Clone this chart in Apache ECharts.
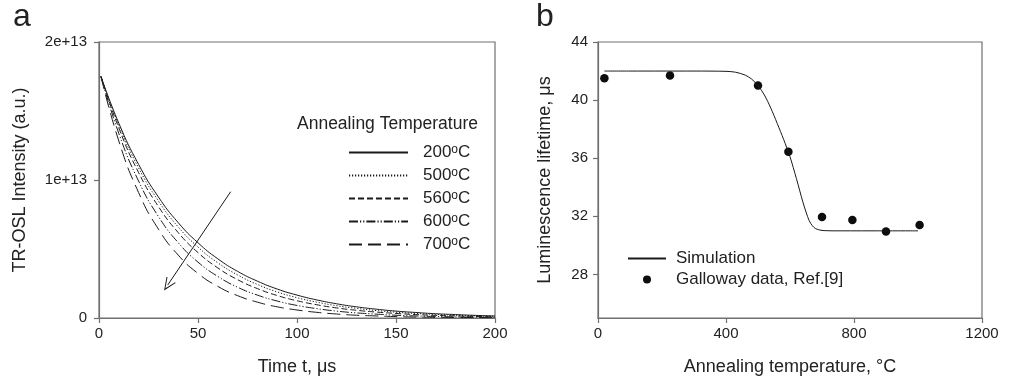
<!DOCTYPE html>
<html><head><meta charset="utf-8">
<script src="https://cdn.jsdelivr.net/npm/echarts@6/dist/echarts.min.js"></script>
<style>html,body{margin:0;padding:0;background:#fff}#c{width:1019px;height:384px}</style>
</head><body><div id="c"></div>
<script>
// ---- Panel a: TR-OSL decay curves (intensity in units of 1e13) ----
const timeUs = [1,10,20,30,40,50,60,70,80,90,100,110,120,130,140,150,160,170,180,190,200];
const seriesNamesA = ['200°C','500°C','560°C','600°C','700°C'];
const int200 = [1.75,1.412,1.113,0.877,0.691,0.545,0.429,0.338,0.267,0.210,0.166,0.131,0.103,0.081,0.064,0.050,0.040,0.031,0.025,0.019,0.015];
const int500 = [1.75,1.397,1.088,0.848,0.660,0.514,0.400,0.312,0.243,0.189,0.147,0.115,0.089,0.070,0.054,0.042,0.033,0.026,0.020,0.016,0.012];
const int560 = [1.75,1.377,1.054,0.808,0.619,0.474,0.363,0.278,0.213,0.163,0.125,0.096,0.073,0.056,0.043,0.033,0.025,0.019,0.015,0.011,0.009];
const int600 = [1.75,1.338,0.992,0.736,0.546,0.405,0.301,0.223,0.166,0.123,0.091,0.068,0.050,0.037,0.028,0.020,0.015,0.011,0.008,0.006,0.005];
const int700 = [1.75,1.283,0.909,0.644,0.456,0.323,0.229,0.162,0.115,0.081,0.058,0.041,0.029,0.020,0.015,0.010,0.007,0.005,0.004,0.003,0.002];
const intensityScale = 1e13;
const arrowFrom = [66.5, 0.915];
const arrowTo = [34.7, 0.239];

// ---- Panel b: luminescence lifetime vs annealing temperature ----
const simTemp = [20,100,200,300,400,430,460,480,500,520,540,560,580,600,620,640,650,660,670,680,700,750,800,900,1000];
const simLife = [42.0,42.0,42.0,42.0,41.98,41.92,41.72,41.45,41.0,40.35,39.45,38.4,37.3,36.1,34.6,33.0,32.3,31.7,31.35,31.15,31.03,31.0,31.0,31.0,31.0];
const dataTemp = [20,225,500,595,700,795,900,1005];
const dataLife = [41.5,41.7,41.0,36.45,31.95,31.75,30.95,31.4];
const yTicksB = [28,32,36,40,44];

const FONT = 'Liberation Sans, Arial, sans-serif';
const TXT = '#222';
const AX = '#707070';
const LINE = '#1a1a1a';
const dashes = ['solid', [1.2,1.8], [6,3], [9,2,1.2,2,1.2,2], [13,6]];

const chart = echarts.init(document.getElementById('c'), null, {renderer:'canvas'});

function axisCommon() {
  return {
    axisLine: {show:true, onZero:false, lineStyle:{color:AX, width:1.2}},
    axisTick: {show:true, inside:false, length:5, lineStyle:{color:AX, width:1.2}},
    splitLine: {show:false},
    axisLabel: {color:TXT, fontFamily:FONT, fontSize:15, formatter: v => String(v)},
    nameTextStyle: {color:TXT, fontFamily:FONT, fontSize:18}
  };
}

const seriesA = [int200,int500,int560,int600,int700].map((arr, k) => ({
  name: seriesNamesA[k],
  type: 'line',
  xAxisIndex: 0, yAxisIndex: 0,
  symbol: 'none',
  smooth: true,
  silent: true,
  lineStyle: {color: LINE, width: 1, type: dashes[k]},
  itemStyle: {color: LINE},
  data: timeUs.map((t, i) => [t, arr[i] * intensityScale]),
  markLine: k === 0 ? {
    silent: true,
    symbol: ['none', 'path://M0,0 L5,11 L4.2,11.4 L0,2.2 L-4.2,11.4 L-5,11 Z'],
    symbolSize: [11, 13],
    label: {show:false},
    lineStyle: {color: LINE, width: 1, type: 'solid'},
    emphasis: {disabled: true},
    data: [[{coord: [arrowFrom[0], arrowFrom[1]*intensityScale]}, {coord: [arrowTo[0], arrowTo[1]*intensityScale]}]]
  } : undefined
}));

const option = {
  animation: false,
  backgroundColor: '#fff',
  textStyle: {fontFamily: FONT},
  title: [
    {text:'a', left: 8, top: -4, textStyle:{fontFamily:FONT, fontSize:32, fontWeight:'normal', color:TXT}},
    {text:'b', left: 531, top: -4, textStyle:{fontFamily:FONT, fontSize:32, fontWeight:'normal', color:TXT}},
    {text:'Annealing Temperature', left: 292, top: 110, textStyle:{fontFamily:FONT, fontSize:17.5, fontWeight:'normal', color:TXT}}
  ],
  grid: [
    {left: 99, top: 42, width: 396, height: 276, show: true, borderColor: AX, borderWidth: 1.2, backgroundColor: 'transparent'},
    {left: 598, top: 42, width: 384, height: 276, show: true, borderColor: AX, borderWidth: 1.2, backgroundColor: 'transparent'}
  ],
  legend: [
    {
      data: seriesNamesA.map(n => ({name: n, itemStyle: {opacity: 0}})),
      orient: 'vertical',
      left: 348, top: 144, padding: 0,
      itemWidth: 59, itemHeight: 14, itemGap: 6,
      selectedMode: false,
      formatter: n => n.replace('°C', '{s|o}C'),
      textStyle: {fontFamily:FONT, fontSize:17, color:TXT, lineHeight:17, padding:[0,0,0,10],
        rich: {s: {fontFamily:FONT, fontSize:12, color:TXT, verticalAlign:'top', lineHeight:5}}}
    },
    {
      data: [{name: 'Simulation', itemStyle: {opacity: 0}}, {name: 'Galloway data, Ref.[9]'}],
      orient: 'vertical',
      left: 627, top: 250, padding: 0,
      itemWidth: 38, itemHeight: 8, itemGap: 4,
      selectedMode: false,
      textStyle: {fontFamily:FONT, fontSize:17, color:TXT, lineHeight:17, padding:[0,0,0,5]}
    }
  ],
  xAxis: [
    Object.assign(axisCommon(), {
      gridIndex: 0, type: 'value', min: 0, max: 200, interval: 50,
      name: 'Time t, μs', nameLocation: 'middle', nameGap: 40
    }),
    Object.assign(axisCommon(), {
      gridIndex: 1, type: 'value', min: 0, max: 1200, interval: 400,
      name: 'Annealing temperature, °C', nameLocation: 'middle', nameGap: 40
    })
  ],
  yAxis: [
    Object.assign(axisCommon(), {
      gridIndex: 0, type: 'value', min: 0, max: 2 * intensityScale, interval: intensityScale,
      name: 'TR-OSL Intensity (a.u.)', nameLocation: 'middle', nameGap: 70,
      axisLabel: {color:TXT, fontFamily:FONT, fontSize:15, margin:12,
        formatter: v => v === 0 ? '0' : v.toExponential(0)}
    }),
    (function(){
      const a = axisCommon();
      return Object.assign(a, {
        gridIndex: 1, type: 'value', min: 25, max: 44,
        name: 'Luminescence lifetime, μs', nameLocation: 'middle', nameGap: 44,
        axisTick: {show:true, length:5, lineStyle:{color:AX, width:1.2}, customValues: yTicksB},
        axisLabel: {color:TXT, fontFamily:FONT, fontSize:15, margin:10, customValues: yTicksB, formatter: v => String(v)}
      });
    })()
  ],
  series: seriesA.concat([
    {
      name: 'Simulation', type: 'line', xAxisIndex: 1, yAxisIndex: 1,
      symbol: 'none', smooth: 0.3, silent: true,
      lineStyle: {color: LINE, width: 1},
      itemStyle: {color: LINE},
      data: simTemp.map((t, i) => [t, simLife[i]])
    },
    {
      name: 'Galloway data, Ref.[9]', type: 'scatter', xAxisIndex: 1, yAxisIndex: 1,
      symbol: 'circle', symbolSize: 8.5, silent: true,
      itemStyle: {color: '#0d0d0d', opacity: 1},
      data: dataTemp.map((t, i) => [t, dataLife[i]])
    }
  ])
};
chart.setOption(option);
</script>
</body></html>
